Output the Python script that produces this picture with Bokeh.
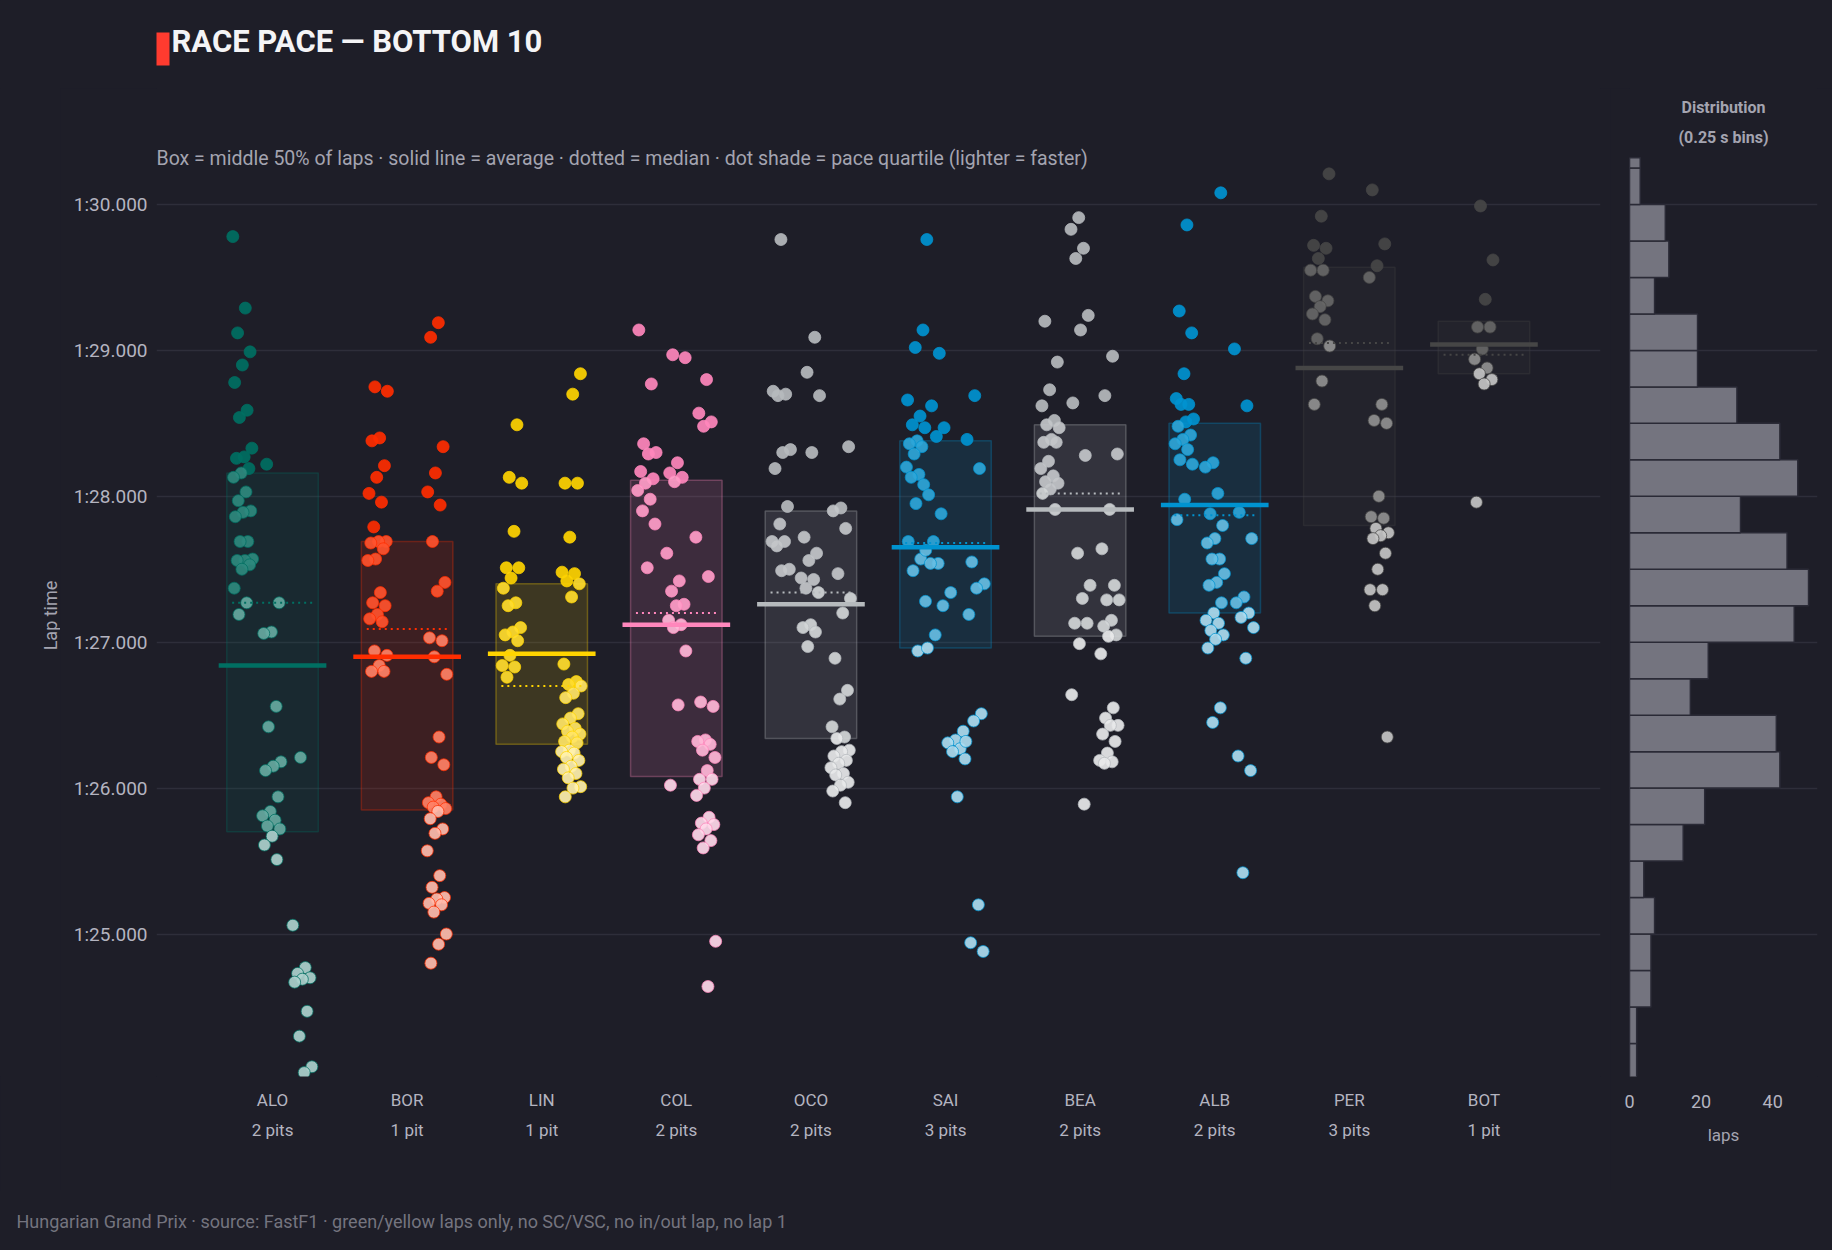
import math
from bokeh.plotting import figure
from bokeh.models import Range1d, FixedTicker, Label, ColumnDataSource
from bokeh.layouts import row, column
from bokeh.embed import file_html
from bokeh.resources import INLINE

# ---------------- data ----------------
drivers = ["ALO", "BOR", "LIN", "COL", "OCO", "SAI", "BEA", "ALB", "PER", "BOT"]
pit_labels = ["2 pits", "1 pit", "1 pit", "2 pits", "2 pits", "3 pits", "2 pits", "2 pits", "3 pits", "1 pit"]
team_colors = ["#006f62", "#ff2d00", "#ffd400", "#ff87bc", "#b6babd",
               "#0093d0", "#b6babd", "#0093d0", "#464646", "#464646"]

# lap times in seconds past 1:00, grouped by stint
laps_ALO = [
    [89.78, 89.29, 89.12, 88.99, 88.90, 88.78, 88.59, 88.54, 88.33, 88.27, 88.26, 88.19, 88.16, 88.13,
     88.03, 87.97, 87.90, 87.89, 87.86, 87.69, 87.69, 87.57, 87.56, 87.56, 87.53, 87.50, 87.37, 87.27, 87.19],
    [88.22, 87.27, 87.07, 87.06, 86.56, 86.42, 86.18, 86.15, 86.12, 85.94, 85.84, 85.81, 85.78, 85.74,
     85.72, 85.67, 85.61, 85.51],
    [86.21, 85.06, 84.77, 84.73, 84.70, 84.69, 84.67, 84.47, 84.30, 84.09, 84.05],
]
laps_BOR = [
    [88.75, 88.72, 88.40, 88.38, 88.21, 88.13, 88.02, 87.96, 87.79, 87.69, 87.69, 87.68, 87.64, 87.57,
     87.56, 87.34, 87.27, 87.25, 87.19, 87.16, 87.14, 86.94, 86.91, 86.84, 86.80, 86.80],
    [89.19, 89.09, 88.34, 88.16, 88.03, 87.94, 87.69, 87.41, 87.35, 87.03, 87.01, 86.90, 86.78, 86.35,
     86.21, 86.16, 85.94, 85.90, 85.89, 85.87, 85.86, 85.84, 85.79, 85.72, 85.69, 85.57, 85.40, 85.32,
     85.25, 85.24, 85.21, 85.20, 85.15, 85.00, 84.93, 84.80],
]
laps_LIN = [
    [88.49, 88.13, 88.09, 87.76, 87.51, 87.51, 87.44, 87.37, 87.27, 87.25, 87.10, 87.07, 87.05, 87.01,
     86.91, 86.84, 86.83, 86.76],
    [88.84, 88.70, 88.09, 88.09, 87.72, 87.48, 87.47, 87.42, 87.40, 87.31, 86.85, 86.73, 86.71, 86.70,
     86.65, 86.62, 86.51, 86.48, 86.44, 86.41, 86.39, 86.37, 86.35, 86.32, 86.31, 86.26, 86.25, 86.24,
     86.21, 86.19, 86.15, 86.13, 86.10, 86.07, 86.01, 86.00, 85.94],
]
laps_COL = [
    [89.14, 88.77, 88.36, 88.30, 88.29, 88.17, 88.12, 88.09, 88.04, 87.98, 87.90, 87.81, 87.51],
    [88.97, 88.95, 88.23, 88.16, 88.13, 88.10, 87.61, 87.42, 87.35, 87.26, 87.25, 87.15, 87.12, 87.10,
     86.94, 86.57, 86.02],
    [88.80, 88.57, 88.51, 88.48, 87.72, 87.45, 86.59, 86.56, 86.33, 86.32, 86.30, 86.26, 86.21, 86.12,
     86.06, 86.06, 86.00, 85.95, 85.80, 85.76, 85.75, 85.72, 85.68, 85.64, 85.59, 84.95, 84.64],
]
laps_OCO = [
    [89.76, 88.72, 88.70, 88.69, 88.32, 88.30, 88.19, 87.93, 87.81, 87.69, 87.69, 87.66, 87.50, 87.49],
    [89.09, 88.85, 88.69, 88.30, 87.72, 87.61, 87.56, 87.44, 87.43, 87.37, 87.34, 87.12, 87.10, 87.07, 86.97],
    [88.34, 87.92, 87.90, 87.78, 87.47, 87.30, 87.20, 86.89, 86.67, 86.61, 86.42, 86.35, 86.34, 86.26,
     86.25, 86.22, 86.19, 86.17, 86.14, 86.10, 86.09, 86.04, 86.02, 85.98, 85.90],
]
laps_SAI = [
    [89.14, 89.02, 88.66, 88.55, 88.49, 88.47, 88.38, 88.36, 88.34, 88.29, 88.20, 88.15, 88.13, 88.08,
     87.95, 87.69, 87.57, 87.49, 87.28, 86.94],
    [89.76, 88.98, 88.62, 88.47, 88.41, 88.01, 87.88, 87.69, 87.63, 87.54, 87.54, 87.25, 87.05, 86.96],
    [87.34, 86.39, 86.33, 86.31, 86.27, 86.25, 86.20, 85.94],
    [88.69, 88.39, 88.19, 87.55, 87.40, 87.37, 87.19, 86.51, 86.46, 86.32, 85.20, 84.94, 84.88],
]
laps_BEA = [
    [89.20, 88.92, 88.73, 88.62, 88.52, 88.49, 88.47, 88.39, 88.37, 88.37, 88.24, 88.19, 88.14, 88.10,
     88.09, 88.05, 88.02, 87.91],
    [89.91, 89.83, 89.70, 89.63, 89.24, 89.14, 88.64, 88.28, 87.61, 87.39, 87.30, 87.13, 87.13, 86.99,
     86.64, 85.89],
    [88.96, 88.69, 88.29, 87.91, 87.64, 87.39, 87.29, 87.29, 87.15, 87.11, 87.05, 87.04, 86.92, 86.55,
     86.48, 86.43, 86.43, 86.37, 86.32, 86.24, 86.19, 86.18, 86.17],
]
laps_ALB = [
    [89.86, 89.27, 89.12, 88.84, 88.67, 88.63, 88.63, 88.53, 88.51, 88.48, 88.42, 88.39, 88.36, 88.32,
     88.25, 88.22, 87.98, 87.84],
    [90.08, 88.23, 88.20, 88.02, 87.88, 87.80, 87.71, 87.68, 87.57, 87.57, 87.47, 87.41, 87.39, 87.27,
     87.20, 87.15, 87.13, 87.08, 87.05, 87.02, 86.96, 86.55, 86.45],
    [89.01, 88.62, 87.89, 87.71, 87.31, 87.27, 87.20, 87.17, 87.10, 86.89, 86.22, 86.12, 85.42],
]
laps_PER = [
    [90.21, 89.92, 89.72, 89.70, 89.63, 89.55, 89.55, 89.37, 89.34, 89.30, 89.25, 89.21, 89.08, 89.03,
     88.79, 88.63],
    [90.10, 89.73, 89.58, 89.50, 88.63, 88.52, 88.50, 88.00, 87.86, 87.85, 87.78, 87.75, 87.73, 87.71,
     87.61, 87.50, 87.36, 87.36, 87.25, 86.35],
]
laps_BOT = [
    [89.99, 89.62, 89.35, 89.16, 89.16, 89.01, 88.94, 88.88, 88.84, 88.80, 88.77, 87.96],
]
laps_by_driver = [laps_ALO, laps_BOR, laps_LIN, laps_COL, laps_OCO,
                  laps_SAI, laps_BEA, laps_ALB, laps_PER, laps_BOT]

# per-driver summary
box_q1 = [85.70, 85.85, 86.30, 86.08, 86.34, 86.96, 87.04, 87.20, 87.80, 88.84]
box_q3 = [88.16, 87.69, 87.40, 88.11, 87.90, 88.38, 88.49, 88.50, 89.57, 89.20]
medians = [87.27, 87.09, 86.70, 87.20, 87.34, 87.68, 88.02, 87.87, 89.05, 88.97]
means = [86.84, 86.90, 86.92, 87.12, 87.26, 87.65, 87.91, 87.94, 88.88, 89.04]

# distribution panel: 0.25 s bins (lower edges) and lap counts
hist_bin_lo = [84.00, 84.25, 84.50, 84.75, 85.00, 85.25, 85.50, 85.75, 86.00, 86.25, 86.50, 86.75, 87.00,
               87.25, 87.50, 87.75, 88.00, 88.25, 88.50, 88.75, 89.00, 89.25, 89.50, 89.75, 90.00, 90.25]
hist_counts = [2, 2, 6, 6, 7, 4, 15, 21, 42, 41, 17, 22, 46,
               50, 44, 31, 47, 42, 30, 19, 19, 7, 11, 10, 3, 3]
BIN_W = 0.25
HIST_SHOWN_MAX = 90.32   # the distribution panel ends here (top bin is cut at this edge)

y_ticks = [85, 86, 87, 88, 89, 90]
y_tick_labels = ["1:25.000", "1:26.000", "1:27.000", "1:28.000", "1:29.000", "1:30.000"]
hist_ticks = [0, 20, 40]

# ---------------- styling ----------------
BG = "#1e1e28"
GRID = "#2e2e3a"
TXT = "#b4b4c0"
SUB = "#a4a4b0"
FOOT = "#74747f"
FONT = "Roboto"

SHADE_T = [0.0, 0.18, 0.40, 0.68]   # slowest quartile -> fastest quartile


def tint(hexc, t):
    r, g, b = int(hexc[1:3], 16), int(hexc[3:5], 16), int(hexc[5:7], 16)
    return "#%02x%02x%02x" % (round(r + (255 - r) * t), round(g + (255 - g) * t), round(b + (255 - b) * t))


LANES = {1: [0.0], 2: [-0.22, 0.22], 3: [-0.22, 0.0, 0.22], 4: [-0.22, -0.073, 0.073, 0.22]}

xs, ys, fills, lines = [], [], [], []
for i, stints in enumerate(laps_by_driver):
    lanes = LANES[len(stints)]
    base = team_colors[i]
    for s, laps in enumerate(stints):
        for k, t in enumerate(laps):
            jit = (((k * 0.618034) + 0.37 * i + 0.21 * s) % 1.0 - 0.5) * 0.15
            xs.append(i + lanes[s] + jit)
            ys.append(t)
            if t <= box_q1[i]:
                q = 3
            elif t <= medians[i]:
                q = 2
            elif t <= box_q3[i]:
                q = 1
            else:
                q = 0
            fills.append(tint(base, SHADE_T[q]))
            lines.append(base)

pts = ColumnDataSource(dict(x=xs, y=ys, fill=fills, line=lines))

idx = list(range(len(drivers)))
stats = ColumnDataSource(dict(
    x=idx, q1=box_q1, q3=box_q3, med=medians, mean=means, color=team_colors,
    bl=[i - 0.34 for i in idx], br=[i + 0.34 for i in idx],
    ml0=[i - 0.40 for i in idx], ml1=[i + 0.40 for i in idx],
    md0=[i - 0.30 for i in idx], md1=[i + 0.30 for i in idx],
))

# page geometry (px)
W = 1832
HEAD_H, FOOT_H = 88, 60
MID_H = 1250 - HEAD_H - FOOT_H
STRIP_W = 60                            # left strip holding the rotated "Lap time" label
MAIN_RIGHT_EDGE = 1610                  # page column where the distribution panel begins
MAIN_W = MAIN_RIGHT_EDGE - STRIP_W
FRAME_LEFT = 156
FRAME_TOP, FRAME_BOTTOM = HEAD_H, 1076  # page rows of the plot frames
PX_PER_S = 145.9


def y_at(px_from_page_top):
    # lap-time value that sits at a given page row (90 s sits at row 204)
    return 90.0 - (px_from_page_top - 204) / PX_PER_S


def base_fig(**kw):
    f = figure(output_backend="svg", toolbar_location=None, **kw)
    f.background_fill_color = BG
    f.border_fill_color = BG
    f.outline_line_color = None
    return f


def text_fig(height):
    f = base_fig(width=W, height=height, x_range=Range1d(0, W), y_range=Range1d(height, 0),
                 x_axis_location=None, y_axis_location=None, min_border=0)
    f.grid.visible = False
    return f


def frame_label(fig, frame_left, x_page, y_page, text, **kw):
    # Label placed by page pixel, converted to screen units (origin = frame bottom-left)
    fig.add_layout(Label(x=x_page - frame_left, y=FRAME_BOTTOM - y_page, x_units="screen",
                         y_units="screen", text=text, text_font=FONT, **kw))


y_range = Range1d(y_at(FRAME_BOTTOM), y_at(FRAME_TOP))
BOTTOM_BORDER = HEAD_H + MID_H - FRAME_BOTTOM

# ---------------- header ----------------
head = text_fig(HEAD_H)
head.quad(left=[156], right=[169], top=[32], bottom=[65], fill_color="#ff3b2f", line_color=None)
head.add_layout(Label(x=171, y=41, text="RACE PACE — BOTTOM 10", text_font=FONT, text_font_style="bold",
                      text_font_size="31px", text_color="#f4f4f6", text_baseline="middle"))

# ---------------- left strip: y-axis title ----------------
strip = base_fig(width=STRIP_W, height=MID_H, title=None, x_range=Range1d(0, STRIP_W), y_range=y_range,
                 x_axis_location=None, y_axis_location=None,
                 min_border_left=0, min_border_right=0, min_border_top=FRAME_TOP - HEAD_H,
                 min_border_bottom=BOTTOM_BORDER)
strip.grid.visible = False
frame_label(strip, 0, 50, 615, "Lap time", text_font_size="18px", text_color=SUB,
            text_align="center", text_baseline="middle", angle=math.pi / 2)

# ---------------- main figure ----------------
p = base_fig(width=MAIN_W, height=MID_H, title=None,
             x_range=Range1d(-0.862, 9.866), y_range=y_range,
             min_border_left=FRAME_LEFT - STRIP_W, min_border_right=MAIN_RIGHT_EDGE - 1600,
             min_border_top=FRAME_TOP - HEAD_H, min_border_bottom=BOTTOM_BORDER)
p.xgrid.grid_line_color = None
p.ygrid.grid_line_color = GRID
p.ygrid.grid_line_width = 1.5

p.quad(left="bl", right="br", bottom="q1", top="q3", source=stats,
       fill_color="color", fill_alpha=0.14, line_color="color", line_alpha=0.3, line_width=1.5)
p.scatter("x", "y", source=pts, size=12, fill_color="fill", fill_alpha=0.92,
          line_color="line", line_alpha=0.75, line_width=1)
p.segment(x0="md0", x1="md1", y0="med", y1="med", source=stats,
          line_color="color", line_width=2, line_dash="2 4")
p.segment(x0="ml0", x1="ml1", y0="mean", y1="mean", source=stats,
          line_color="color", line_width=4.5)

p.yaxis.ticker = FixedTicker(ticks=y_ticks)
p.yaxis.major_label_overrides = {v: s for v, s in zip(y_ticks, y_tick_labels)}

p.xaxis.ticker = FixedTicker(ticks=idx)
p.xaxis.major_label_overrides = {i: f"{d}\n{pl}" for i, (d, pl) in enumerate(zip(drivers, pit_labels))}
p.xaxis.major_label_text_line_height = 1.5
for ax in (p.xaxis, p.yaxis):
    ax.axis_line_color = None
    ax.major_tick_line_color = None
    ax.minor_tick_line_color = None
    ax.major_label_text_font = FONT
    ax.major_label_text_color = TXT
p.yaxis.major_label_text_font_size = "19px"
p.xaxis.major_label_text_font_size = "17px"
p.yaxis.major_label_standoff = 3
p.xaxis.major_label_standoff = 7

frame_label(p, FRAME_LEFT, 156, 158,
            "Box = middle 50% of laps · solid line = average · dotted = median · "
            "dot shade = pace quartile (lighter = faster)",
            text_font_size="19.5px", text_color=SUB, text_baseline="middle")

# ---------------- distribution panel ----------------
H_LEFT, H_RIGHT = 1629, 1817
h = base_fig(width=W - MAIN_RIGHT_EDGE, height=MID_H, title=None,
             x_range=Range1d(0, 52.5), y_range=y_range,
             min_border_left=H_LEFT - MAIN_RIGHT_EDGE, min_border_right=W - H_RIGHT,
             min_border_top=FRAME_TOP - HEAD_H, min_border_bottom=BOTTOM_BORDER)
h.xgrid.grid_line_color = None
h.ygrid.ticker = FixedTicker(ticks=y_ticks)
h.ygrid.grid_line_color = GRID
h.ygrid.grid_line_width = 1.5
h.yaxis.visible = False

hsrc = ColumnDataSource(dict(lo=hist_bin_lo,
                             hi=[min(b + BIN_W, HIST_SHOWN_MAX) for b in hist_bin_lo],
                             n=hist_counts))
h.quad(left=0, right="n", bottom="lo", top="hi", source=hsrc,
       fill_color="#74747f", line_color="#2a2a36", line_width=1.5)

h.xaxis.ticker = FixedTicker(ticks=hist_ticks)
h.xaxis.axis_label = "laps"
h.xaxis.axis_label_text_font = FONT
h.xaxis.axis_label_text_font_style = "normal"
h.xaxis.axis_label_text_font_size = "17px"
h.xaxis.axis_label_text_color = SUB
h.xaxis.axis_label_standoff = 14
h.xaxis.axis_line_color = None
h.xaxis.major_tick_line_color = None
h.xaxis.minor_tick_line_color = None
h.xaxis.major_label_text_font = FONT
h.xaxis.major_label_text_font_size = "18px"
h.xaxis.major_label_text_color = TXT
h.xaxis.major_label_standoff = 12

frame_label(h, H_LEFT, 1723, 107, "Distribution", text_font_style="bold", text_font_size="16px",
            text_color=SUB, text_align="center", text_baseline="middle")
frame_label(h, H_LEFT, 1723, 137, "(0.25 s bins)", text_font_style="bold", text_font_size="16px",
            text_color=SUB, text_align="center", text_baseline="middle")

# ---------------- footer ----------------
foot = text_fig(FOOT_H)
foot.add_layout(Label(x=16, y=1221 - (1250 - FOOT_H),
                      text="Hungarian Grand Prix  ·  source: FastF1  ·  green/yellow laps only, "
                           "no SC/VSC, no in/out lap, no lap 1",
                      text_font=FONT, text_font_size="18px", text_color=FOOT, text_baseline="middle"))

layout = column(head, row(strip, p, h, styles={"background-color": BG}), foot,
                styles={"background-color": BG})
open("out.html", "w").write(file_html(layout, INLINE))
